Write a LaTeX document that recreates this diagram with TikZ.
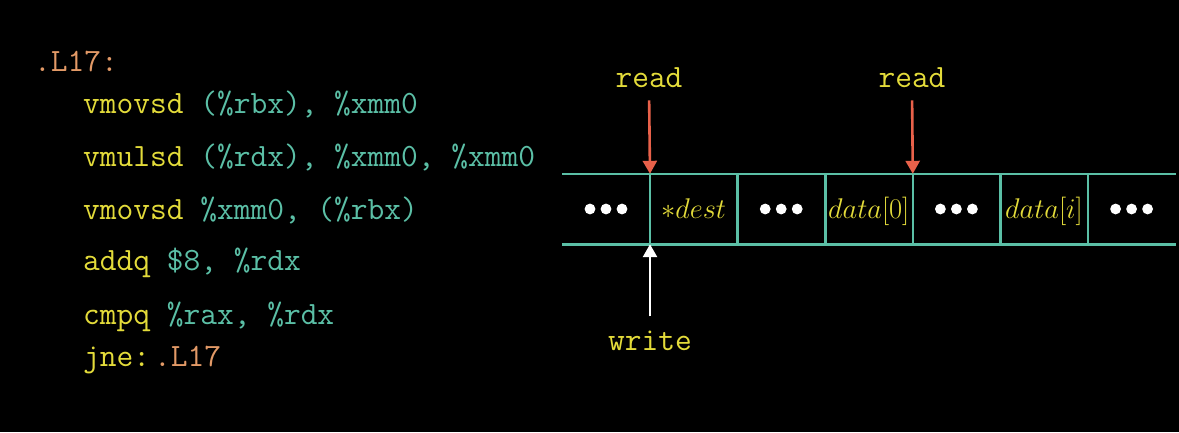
\RequirePackage{fix-cm}
\documentclass[tikz,border=0pt]{standalone}
\usepackage{fontspec}
\usetikzlibrary{arrows.meta}
\definecolor{cy}{HTML}{E3DB3A}
\definecolor{ct}{HTML}{5BBFA6}
\definecolor{co}{HTML}{E39A67}
\definecolor{cr}{HTML}{E8614A}
\begin{document}
\begin{tikzpicture}[x=1pt,y=-1pt,
  code/.style={anchor=base west,inner sep=0pt,font=\fontsize{32.5}{38}\selectfont\ttfamily},
  lbl/.style={anchor=base,inner sep=0pt,text=cy,font=\fontsize{32.5}{38}\selectfont\ttfamily},
  cell/.style={minimum width=87.6pt,minimum height=70pt,inner sep=0pt},
  mtext/.style={anchor=base,inner sep=0pt,text=cy,font=\fontsize{28.5}{34}\selectfont,yshift=-9pt},
  gridline/.style={draw=ct,line width=2.6pt},
  rarr/.style={draw=cr,line width=2.6pt,-{Triangle[length=13pt,width=14pt]}},
  warr/.style={draw=white,line width=2.6pt,-{Triangle[length=13pt,width=14pt]}}]
\fill[black] (0,0) rectangle (1179,432);
\useasboundingbox (0,0) rectangle (1179,432);
% code
\node[code] (l0) at (34,71) {\color{co}.L17:};
\node[code] (l1) at (83,113) {\color{cy}vmovsd \color{ct}(\%rbx), \%xmm0};
\node[code] (l2) at (83,166) {\color{cy}vmulsd \color{ct}(\%rdx), \%xmm0, \%xmm0};
\node[code] (l3) at (83,219) {\color{cy}vmovsd \color{ct}\%xmm0, (\%rbx)};
\node[code] (l4) at (83,270) {\color{cy}addq \color{ct}\$8, \%rdx};
\node[code] (l5) at (83,324) {\color{cy}cmpq \color{ct}\%rax, \%rdx};
\node[code] (l6) at (83,366) {\color{cy}jne:\hspace{4pt}\color{co}.L17};
% memory cells
\node[cell] (c1) at (606,209) {};
\node[cell] (c2) at (693.6,209) {};
\node[cell] (c3) at (781.2,209) {};
\node[cell] (c4) at (868.8,209) {};
\node[cell] (c5) at (956.4,209) {};
\node[cell] (c6) at (1044,209) {};
\node[cell] (c7) at (1131.6,209) {};
\draw[gridline] (c1.north west) -- (c7.north east);
\draw[gridline] (c1.south west) -- (c7.south east);
\foreach \c in {c1,c2,c3,c4,c5,c6}{
  \draw[gridline] (\c.north east) -- (\c.south east);
}
\foreach \c in {c1,c3,c5,c7}{
  \foreach \dx in {-16,0,16}{
    \fill[white] ([xshift=\dx pt]\c.center) circle (5.4pt);
  }
}
\node[mtext] (t2) at (c2.center) {$*dest$};
\node[mtext] (t4) at (c4.center) {$data[0]$};
\node[mtext] (t6) at (c6.center) {$data[i]$};
% arrows
\node[lbl] (r1) at (649,87) {read};
\node[lbl] (r2) at (912,87) {read};
\node[lbl] (w1) at (650,350) {write};
\draw[rarr,shorten <=13pt] (r1.south) -- (c1.north east);
\draw[rarr,shorten <=13pt] (r2.south) -- (c4.north east);
\draw[warr,shorten <=14pt] (w1.north) -- (c1.south east);
\end{tikzpicture}
\end{document}
